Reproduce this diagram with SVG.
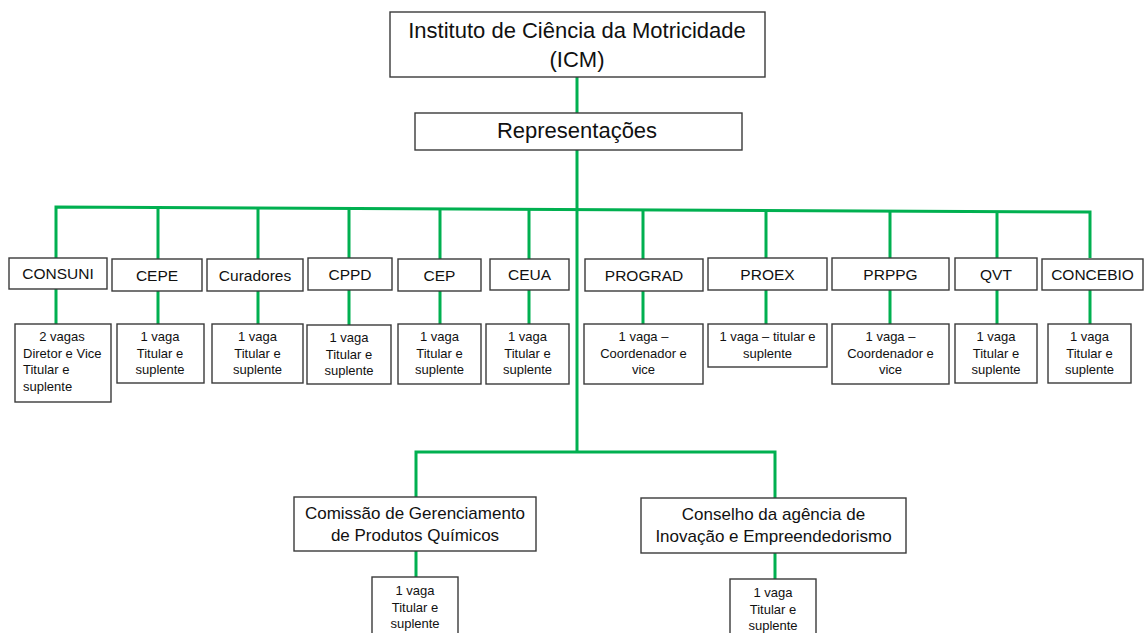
<svg xmlns="http://www.w3.org/2000/svg" width="1147" height="633" viewBox="0 0 1147 633">
<style>
.box{fill:#fff;stroke:#3a3a3a;stroke-width:1.4}
.ln{stroke:#00B050;stroke-width:3;fill:none}
text{font-family:"Liberation Sans",Arial,sans-serif;fill:#111;text-anchor:middle}
.t1{font-size:22px}
.t2{font-size:15.5px}
.t3{font-size:13px}
.t4{font-size:17px}
.l{text-anchor:start}
</style>
<rect width="1147" height="633" fill="#fff"/>
<g id="connectors">
<path class="ln" d="M577 77V452"/>
<path class="ln" d="M56 258V207L1090 212V258"/>
<path class="ln" d="M158 207.2V259M258 207.7V259M349 208.1V258M440 208.6V259M529 209V259M643 209.6V259M766 210.2V258M890 210.8V258M997 211.3V258"/>
<path class="ln" d="M56 289V324M158 291V324M258 291V324M349 290V325M440 291V324M529 290V324M643 291V324M766 290V324M890 290V324M997 290V324M1090 290V324"/>
<path class="ln" d="M416 497V452H775V498"/>
<path class="ln" d="M416 551V577M775 553V579"/>
</g>
<g id="icm"><rect class="box" x="390" y="12" width="375" height="65"/>
<text class="t1" x="577" y="38">Instituto de Ciência da Motricidade</text>
<text class="t1" x="577" y="67">(ICM)</text></g>
<g id="representacoes"><rect class="box" x="415" y="113" width="327" height="37"/>
<text class="t1" x="577" y="138">Representações</text></g>

<g id="consuni"><rect class="box" x="9" y="258" width="98" height="31"/><text class="t2" x="58" y="279">CONSUNI</text></g>
<g id="cepe"><rect class="box" x="112" y="259" width="90" height="32"/><text class="t2" x="157" y="281">CEPE</text></g>
<g id="curadores"><rect class="box" x="207" y="259" width="96" height="32"/><text class="t2" x="255" y="281">Curadores</text></g>
<g id="cppd"><rect class="box" x="308" y="258" width="84" height="32"/><text class="t2" x="350" y="280">CPPD</text></g>
<g id="cep"><rect class="box" x="398" y="259" width="83" height="32"/><text class="t2" x="439.5" y="281">CEP</text></g>
<g id="ceua"><rect class="box" x="490" y="259" width="79" height="31"/><text class="t2" x="529.5" y="280">CEUA</text></g>
<g id="prograd"><rect class="box" x="585" y="259" width="118" height="32"/><text class="t2" x="644" y="281">PROGRAD</text></g>
<g id="proex"><rect class="box" x="708" y="258" width="119" height="32"/><text class="t2" x="767.5" y="280">PROEX</text></g>
<g id="prppg"><rect class="box" x="832" y="258" width="117" height="32"/><text class="t2" x="890.5" y="280">PRPPG</text></g>
<g id="qvt"><rect class="box" x="955" y="258" width="82" height="32"/><text class="t2" x="996" y="280">QVT</text></g>
<g id="concebio"><rect class="box" x="1042" y="259" width="101" height="31"/><text class="t2" x="1092.5" y="280">CONCEBIO</text></g>

<g id="consuni-vagas"><rect class="box" x="15" y="324" width="96" height="78"/>
<text class="t3" x="62" y="341">2 vagas</text>
<text class="t3 l" x="23" y="357.5">Diretor e Vice</text>
<text class="t3 l" x="23" y="374">Titular e</text>
<text class="t3 l" x="23" y="390.5">suplente</text></g>
<g id="cepe-vagas"><rect class="box" x="117" y="324" width="87" height="59"/>
<text class="t3" x="160" y="341">1 vaga</text><text class="t3" x="160" y="357.5">Titular e</text><text class="t3" x="160" y="374">suplente</text></g>
<g id="curadores-vagas"><rect class="box" x="212" y="324" width="91" height="59"/>
<text class="t3" x="257.5" y="341">1 vaga</text><text class="t3" x="257.5" y="357.5">Titular e</text><text class="t3" x="257.5" y="374">suplente</text></g>
<g id="cppd-vagas"><rect class="box" x="307" y="325" width="84" height="59"/>
<text class="t3" x="349" y="342">1 vaga</text><text class="t3" x="349" y="358.5">Titular e</text><text class="t3" x="349" y="375">suplente</text></g>
<g id="cep-vagas"><rect class="box" x="398" y="324" width="83" height="60"/>
<text class="t3" x="439.5" y="341">1 vaga</text><text class="t3" x="439.5" y="357.5">Titular e</text><text class="t3" x="439.5" y="374">suplente</text></g>
<g id="ceua-vagas"><rect class="box" x="486" y="324" width="83" height="60"/>
<text class="t3" x="527.5" y="341">1 vaga</text><text class="t3" x="527.5" y="357.5">Titular e</text><text class="t3" x="527.5" y="374">suplente</text></g>
<g id="prograd-vagas"><rect class="box" x="584" y="324" width="119" height="60"/>
<text class="t3" x="643.5" y="341">1 vaga –</text><text class="t3" x="643.5" y="357.5">Coordenador  e</text><text class="t3" x="643.5" y="374">vice</text></g>
<g id="proex-vagas"><rect class="box" x="708" y="324" width="119" height="43"/>
<text class="t3" x="767.5" y="341">1 vaga – titular e</text><text class="t3" x="767.5" y="357.5">suplente</text></g>
<g id="prppg-vagas"><rect class="box" x="832" y="324" width="117" height="60"/>
<text class="t3" x="890.5" y="341">1 vaga –</text><text class="t3" x="890.5" y="357.5">Coordenador  e</text><text class="t3" x="890.5" y="374">vice</text></g>
<g id="qvt-vagas"><rect class="box" x="955" y="324" width="82" height="59"/>
<text class="t3" x="996" y="341">1 vaga</text><text class="t3" x="996" y="357.5">Titular e</text><text class="t3" x="996" y="374">suplente</text></g>
<g id="concebio-vagas"><rect class="box" x="1048" y="324" width="83" height="59"/>
<text class="t3" x="1089.5" y="341">1 vaga</text><text class="t3" x="1089.5" y="357.5">Titular e</text><text class="t3" x="1089.5" y="374">suplente</text></g>

<g id="comissao"><rect class="box" x="294" y="497" width="242" height="54"/>
<text class="t4" x="415" y="519">Comissão de Gerenciamento</text>
<text class="t4" x="415" y="541">de Produtos Químicos</text></g>
<g id="conselho"><rect class="box" x="641" y="498" width="265" height="55"/>
<text class="t4" x="773.5" y="520">Conselho da agência de</text>
<text class="t4" x="773.5" y="542">Inovação e Empreendedorismo</text></g>
<g id="comissao-vagas"><rect class="box" x="372" y="577" width="86" height="60"/>
<text class="t3" x="415" y="595">1 vaga</text><text class="t3" x="415" y="612">Titular e</text><text class="t3" x="415" y="628">suplente</text></g>
<g id="conselho-vagas"><rect class="box" x="730" y="579" width="86" height="60"/>
<text class="t3" x="773" y="597">1 vaga</text><text class="t3" x="773" y="614">Titular e</text><text class="t3" x="773" y="630">suplente</text></g>
</svg>
